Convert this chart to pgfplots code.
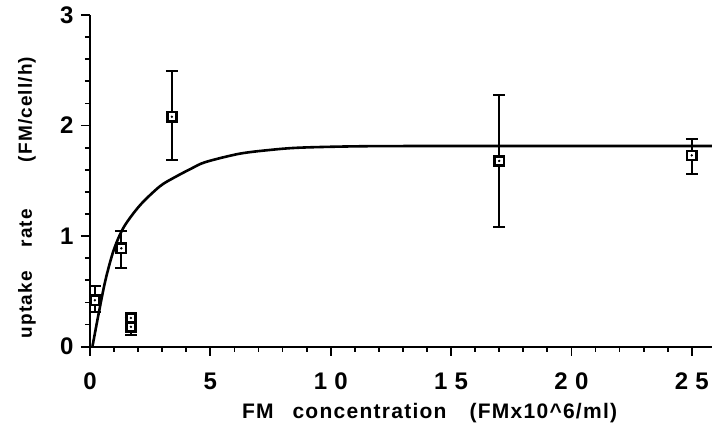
\documentclass[border=0pt]{standalone}
\usepackage{fontspec}
\setmainfont{Liberation Sans}
\newfontfamily\labfont[LetterSpace=6]{Liberation Sans}
\usepackage{pgfplots}
\pgfplotsset{compat=1.18}
\begin{document}
\begin{tikzpicture}
\begin{axis}[
  at={(0,0)}, anchor=south west,
  scale only axis, width=622bp, height=331.7bp,
  xmin=0, xmax=25.84, ymin=0, ymax=3,
  axis x line=bottom, axis y line=left,
  axis line style={-, line width=2.4bp},
  xtick={0,5,10,15,20,25},
  xticklabels={0,5,1\hspace{0.3em}0,1\hspace{0.3em}5,2\hspace{0.3em}0,2\hspace{0.3em}5},
  ytick={0,1,2,3},
  minor x tick num=4, minor y tick num=4,
  tick align=outside, major tick length=9bp, minor tick length=5bp,
  tick style={line width=1.8bp, black},
  /pgf/number format/assume math mode=true,
  ticklabel style={font=\fontsize{24bp}{26bp}\selectfont\bfseries},
  xticklabel style={anchor=center, yshift=-26bp},
  yticklabel style={anchor=east, xshift=-4bp},
  xlabel={FM\hspace{0.9em}concentration\hspace{1.1em}(FMx10\textasciicircum 6/ml)},
  ylabel={uptake\hspace{24bp}rate\hspace{47bp}(FM/cell/h)},
  xlabel style={font=\labfont\fontsize{21bp}{24bp}\selectfont\bfseries,
    at={(axis description cs:0.546,0)}, anchor=center, yshift=-66bp},
  ylabel style={font=\labfont\fontsize{19bp}{22bp}\selectfont\bfseries,
    at={(axis description cs:0,0.45)}, anchor=center, yshift=63bp},
]
% fitted curve
\addplot[black, line width=2.6bp, smooth, tension=0.5, no marks] coordinates {
(0.1,0) (0.36,0.30) (0.64,0.60) (0.98,0.87) (1.4,1.08) (2.08,1.28)
(2.9,1.45) (3.5,1.53) (4.2,1.61) (4.8,1.67) (6.2,1.745) (7.5,1.78)
(8.7,1.80) (11,1.812) (14,1.815) (25.84,1.815)};
% measured rates with error bars
\addplot[black, line width=2bp, only marks, mark=square*, mark size=4.6bp,
  every mark/.append style={fill=white, line width=2.6bp},
  error bars/.cd, y dir=both, y explicit,
  error bar style={line width=2bp},
  error mark options={rotate=90, mark size=6bp, line width=2bp}]
coordinates {
(0.2,0.42) += (0,0.13) -= (0,0.11)
(1.3,0.89) += (0,0.16) -= (0,0.18)
(1.7,0.18) += (0,0.08) -= (0,0.075)
(1.7,0.26) += (0,0) -= (0,0)
(3.4,2.08) += (0,0.41) -= (0,0.39)
(17,1.68) += (0,0.60) -= (0,0.60)
(25,1.73) += (0,0.145) -= (0,0.165)
};
\addplot[black, only marks, mark=*, mark size=1bp] coordinates {
(0.2,0.42) (1.3,0.89) (1.7,0.18) (1.7,0.26) (3.4,2.08) (17,1.68) (25,1.73)};
\end{axis}
\pgfresetboundingbox
\path[use as bounding box] (-90bp,-78.3bp) rectangle (622bp,346.7bp);
\end{tikzpicture}
\end{document}
